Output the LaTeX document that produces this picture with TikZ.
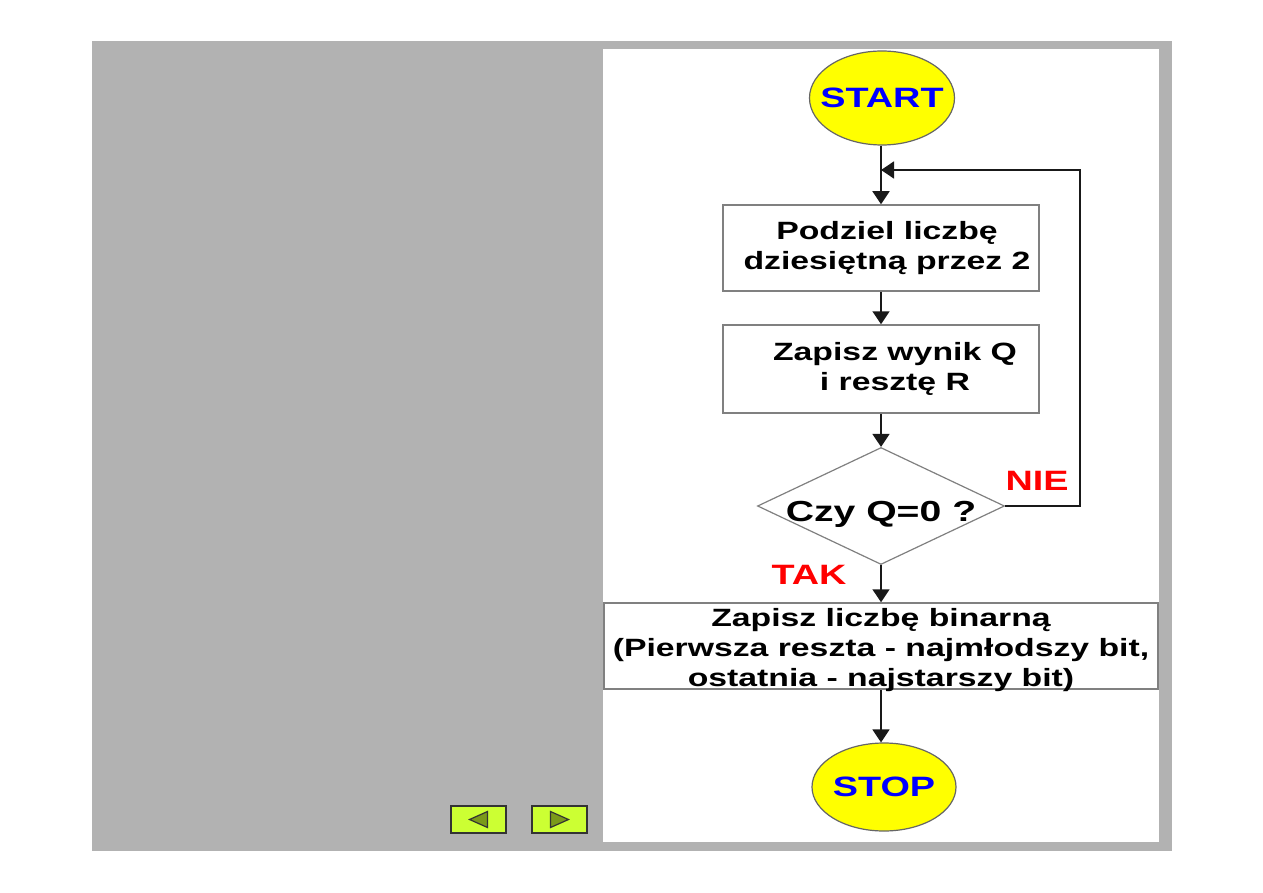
\documentclass[tikz,border=0pt]{standalone}
\usepackage{fontspec}
\setmainfont{Liberation Sans}[FakeStretch=1.35]
\definecolor{panelgrey}{RGB}{178, 178, 178}
\definecolor{termyellow}{RGB}{255, 255, 0}
\definecolor{termblue}{RGB}{0, 0, 255}
\definecolor{answred}{RGB}{255, 0, 0}
\definecolor{btngreen}{RGB}{204, 255, 51}
\definecolor{btnolive}{RGB}{122, 154, 26}
\usetikzlibrary{shapes.geometric, arrows.meta, positioning, calc}

\begin{document}
\begin{tikzpicture}[
  x=0.5pt, y=-0.5pt,
  term/.style={ellipse, draw=black!60, line width=0.6pt, fill=termyellow, text=termblue, inner xsep=-6pt, inner ysep=0pt, font=\fontsize{14}{16}\selectfont\bfseries},
  procbox/.style={rectangle, draw=black!50, line width=0.75pt, fill=white, align=center, inner sep=0pt, minimum width=158pt, minimum height=43pt, font=\fontsize{12.5}{15}\selectfont\bfseries},
  decision/.style={diamond, draw=black!50, line width=0.6pt, fill=white, aspect=2.11, inner sep=0pt, minimum width=123.5pt, minimum height=58.5pt, font=\fontsize{14.5}{16}\selectfont\bfseries},
  answer/.style={text=answred, font=\fontsize{14}{16}\selectfont\bfseries},
  flow/.style={-{Triangle[width=8.5pt, length=6.5pt]}, line width=0.75pt, draw=black!90},
  navbtn/.style={rectangle, draw=black!80, line width=1.3pt, fill=btngreen, minimum width=27.5pt, minimum height=13.5pt, inner sep=0pt},
  navtri/.style={fill=btnolive, draw=black!80, line width=0.6pt, line join=miter}
]
  \useasboundingbox (0,0) rectangle (1263,893);
  \fill[white] (0,0) rectangle (1263,893);
  \fill[panelgrey] (92,41) rectangle (1172,851);
  \fill[white] (603,49) rectangle (1159,842);

  \node[term, minimum width=72.5pt, minimum height=47pt] (start) at (882,98) {START};
  \node[procbox] (podziel) at (881,248) {\hspace*{6pt}Podziel liczbę\\\hspace*{6pt}dziesiętną przez 2};
  \node[procbox, minimum height=44pt] (zapisz) at (881,369) {\hspace*{14pt}Zapisz wynik Q\\\hspace*{14pt}i resztę R};
  \node[decision] (czy) at (881,506) {\raisebox{-4pt}[\height][\depth]{Czy Q=0 ?}};
  \node[procbox, minimum width=277pt] (binarna) at (881,646) {\raisebox{-2pt}[\height][\depth]{Zapisz liczbę binarną}\\\raisebox{-2pt}[\height][\depth]{(Pierwsza reszta - najmłodszy bit,}\\\raisebox{-2pt}[\height][\depth]{ostatnia - najstarszy bit)}};
  \node[term, minimum width=72pt, minimum height=44pt] (stop) at (884,787) {STOP};

  \node[answer] (nie) at (1037,481) {NIE};
  \node[answer] (tak) at (809,575) {TAK};

  \coordinate (join) at (881,170);
  \coordinate (loopx) at (1080,170);

  \draw[flow] (start.south -| join) -- (podziel);
  \draw[flow] (podziel) -- (zapisz);
  \draw[flow] (zapisz) -- (czy);
  \draw[flow] (czy.east) -- (czy.east -| loopx) |- (join);
  \draw[flow] (czy) -- (binarna);
  \draw[flow] (binarna) -- (binarna |- stop.north);

  \node[navbtn] (prev) at (478.5,819.5) {};
  \node[navbtn] (next) at (559.5,819.5) {};
  \filldraw[navtri] ([xshift=-4.5pt]prev.center) -- ++(9pt,4pt) -- ++(0,-8pt) -- cycle;
  \filldraw[navtri] ([xshift=4.5pt]next.center) -- ++(-9pt,4pt) -- ++(0,-8pt) -- cycle;
\end{tikzpicture}
\end{document}
